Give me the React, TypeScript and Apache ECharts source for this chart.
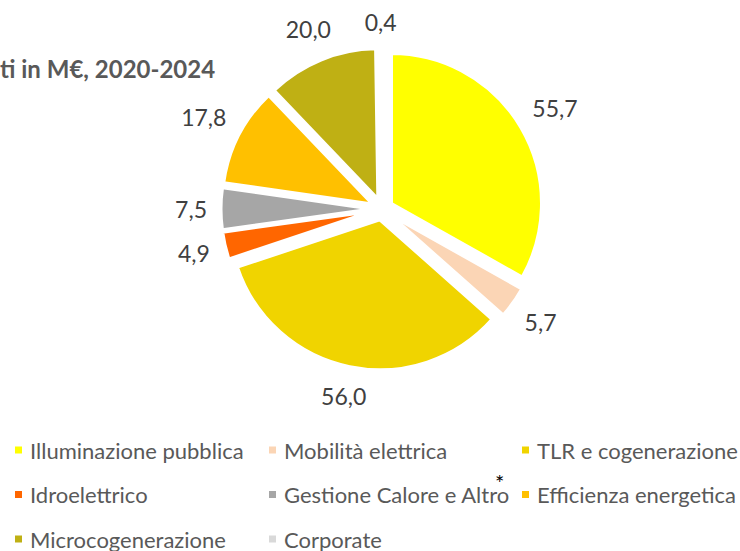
import React, { useEffect, useRef } from "react";
import * as echarts from "echarts";

const categories = [
  "Illuminazione pubblica",
  "Mobilità elettrica",
  "TLR e cogenerazione",
  "Idroelettrico",
  "Gestione Calore e Altro",
  "Efficienza energetica",
  "Microcogenerazione",
  "Corporate",
];
const values = [55.7, 5.7, 56.0, 4.9, 7.5, 17.8, 20.0, 0.4];
const colors = ["#FFFF00", "#FBD5B5", "#F0D400", "#FF6600", "#A6A6A6", "#FFC000", "#BFB014", "#D9D9D9"];
const legendCol1 = ["Illuminazione pubblica", "Idroelettrico", "Microcogenerazione"];
const legendCol2 = ["Mobilità elettrica", "Gestione Calore e Altro", "Corporate"];
const legendCol3 = ["TLR e cogenerazione", "Efficienza energetica"];
const titleText = "ti in M€, 2020-2024";

const FONT = "Lato, 'Noto Sans', sans-serif";

export default function App() {
  const ref = useRef<HTMLDivElement>(null);
  useEffect(() => {
    document.body.style.margin = "0";
    const chart = echarts.init(ref.current!, null, { renderer: "svg" });
    const center = [382, 209];
    const radius = 150;
    const total = values.reduce((a, b) => a + b, 0);
    const midAngles: number[] = [];
    let acc = 0;
    values.forEach((v) => {
      midAngles.push(((acc + v / 2) / total) * Math.PI * 2);
      acc += v;
    });
    const fmt = (p: any) => p.value.toFixed(1).replace(".", ",");
    const mainData = categories.map((n, i) => ({
      name: n,
      value: values[i],
      selected: true,
      itemStyle: { color: colors[i] },
    }));
    const legendBase = {
      orient: "vertical",
      padding: 0,
      itemWidth: 9,
      itemHeight: 9,
      itemGap: 20.5,
      icon: "rect",
      selectedMode: false,
      textStyle: { fontFamily: FONT, fontSize: 22, color: "#595959", padding: [0, 0, 0, 2], lineHeight: 24 },
    };
    const gap = 11;
    chart.setOption({
      animation: false,
      title: {
        text: titleText,
        left: 0,
        top: 56,
        padding: 0,
        textStyle: { fontFamily: FONT, fontSize: 24, fontWeight: "bold", color: "#595959" },
      },
      legend: [
        { ...legendBase, left: 13, top: 438, data: legendCol1 },
        { ...legendBase, left: 267, top: 438, data: legendCol2 },
        { ...legendBase, left: 520, top: 438, data: legendCol3 },
      ],
      graphic: [
        {
          type: "text",
          left: 495,
          top: 471,
          style: { text: "*", fontSize: 22, fill: "#000", fontFamily: FONT },
        },
      ],
      series: [
        {
          type: "pie",
          center,
          radius,
          startAngle: 90,
          clockwise: true,
          selectedMode: "multiple",
          selectedOffset: 11,
          avoidLabelOverlap: false,
          labelLine: { show: false },
          emphasis: { disabled: true },
          select: { itemStyle: { borderColor: "#fff", borderWidth: 3 } },
          itemStyle: { borderColor: "#fff", borderWidth: 3 },
          label: {
            show: true,
            position: "inside",
            formatter: fmt,
            fontFamily: FONT,
            fontSize: 23,
            color: "#404040",
          },
          labelLayout: (params: any) => {
            const a = midAngles[params.dataIndex];
            const sx = Math.sin(a);
            const sy = -Math.cos(a);
            const hw = params.labelRect.width / 2;
            const hh = params.labelRect.height / 2;
            const d = radius / 2 + gap + hw * Math.abs(sx) + hh * Math.abs(sy);
            return { dx: sx * d, dy: sy * d };
          },
          data: mainData,
        },
      ],
    });
    return () => chart.dispose();
  }, []);
  return <div ref={ref} style={{ width: 740, height: 551 }} />;
}
